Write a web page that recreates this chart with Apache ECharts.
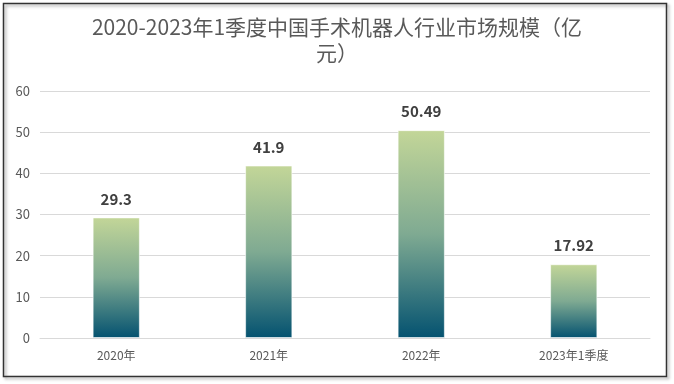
<!DOCTYPE html>
<html><head><meta charset="utf-8">
<script src="https://cdn.jsdelivr.net/npm/echarts@6/dist/echarts.min.js"></script>
<style>html,body{margin:0;padding:0;background:#fff;}#c{width:674px;height:384px;}</style>
</head><body><div id="c"></div>
<script>
const categories = ['2020年', '2021年', '2022年', '2023年1季度'];
const values = [29.3, 41.9, 50.49, 17.92];
const yTicks = { min: 0, max: 60, interval: 10 };
const titleText = '2020-2023年1季度中国手术机器人行业市场规模（亿\n元）';

const chart = echarts.init(document.getElementById('c'), null, { renderer: 'canvas' });
chart.setOption({
  animation: false,
  backgroundColor: '#fff',
  graphic: [{
    type: 'rect', z: 100, silent: true,
    shape: { x: 3.5, y: 3.5, width: 663, height: 373 },
    style: { fill: 'none', stroke: '#333', lineWidth: 1.5, shadowColor: 'rgba(0,0,0,0.35)', shadowBlur: 3, shadowOffsetX: 2, shadowOffsetY: 2 }
  }],
  title: {
    text: titleText, left: 'center', top: 9,
    textStyle: { fontFamily: 'Noto Sans CJK SC', fontSize: 21, fontWeight: 'normal', color: '#595959', lineHeight: 26 }
  },
  grid: { left: 40, right: 24, top: 91, bottom: 46, containLabel: false },
  xAxis: {
    type: 'category', data: categories,
    axisLine: { show: true, lineStyle: { color: '#d9d9d9' } },
    axisTick: { show: false },
    axisLabel: { color: '#595959', fontSize: 12, margin: 11, fontFamily: 'Noto Sans CJK SC' }
  },
  yAxis: {
    type: 'value', min: yTicks.min, max: yTicks.max, interval: yTicks.interval,
    axisLine: { show: false }, axisTick: { show: false },
    splitLine: { lineStyle: { color: '#d9d9d9', width: 1 } },
    axisLabel: { color: '#595959', fontSize: 13, margin: 10, fontFamily: 'Noto Sans CJK SC' }
  },
  series: [{
    type: 'bar', data: values, barWidth: '31%',
    itemStyle: {
      color: new echarts.graphic.LinearGradient(0, 0, 0, 1, [
        { offset: 0, color: '#c3d698' },
        { offset: 0.5, color: '#7faa92' },
        { offset: 1, color: '#045270' }
      ]),
      borderColor: 'rgba(255,255,255,0.6)', borderWidth: 1
    },
    label: {
      show: true, position: 'top', distance: 11,
      fontFamily: 'Noto Sans CJK SC', fontSize: 15, fontWeight: 'bold', color: '#404040'
    }
  }]
});
</script></body></html>
